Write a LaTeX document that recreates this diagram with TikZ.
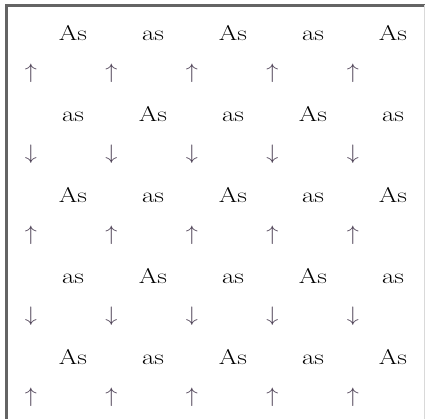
\documentclass[tikz,border=0pt]{standalone}
\usepackage{fix-cm}
\usepackage{amsmath, amssymb}
\usepackage{tikz}
\usepackage{xcolor}
\definecolor{spingray}{RGB}{80,68,88}
\definecolor{framegray}{RGB}{100,100,100}

\begin{document}
\begin{tikzpicture}[x=1bp, y=-1bp,
  atom/.style={font=\fontsize{21.5}{25}\selectfont, text=black, inner sep=0pt,
    anchor=base, xscale=1.25, transform shape},
  spin/.style={font=\fontsize{21}{25}\selectfont, text=spingray, inner sep=0pt,
    xscale=1.15, transform shape}]
% Frame
\useasboundingbox (0,0) rectangle (425,419);
\draw[framegray, line width=3bp] (6.5,419) -- (6.5,5) -- (425,5);
\draw[black!15, line width=1bp] (424,5) -- (424,419);
% Atoms: As and as alternate along rows and columns
\foreach \r in {0,...,4} {
  \foreach \c in {0,...,4} {
    \pgfmathtruncatemacro{\odd}{mod(\r+\c,2)}
    \node[atom] (atom-\r-\c) at ({73+80*\c},{40+81*\r}) {\ifnum\odd=0 As\else as\fi};
  }
}
% Spins: up under even rows, down under odd rows
\foreach \r in {0,...,4} {
  \foreach \c in {0,...,4} {
    \node[spin] (spin-\r-\c) at ({31+80.5*\c},{73+81*\r}) {\ifodd\r $\downarrow$\else $\uparrow$\fi};
  }
}
\end{tikzpicture}
\end{document}
